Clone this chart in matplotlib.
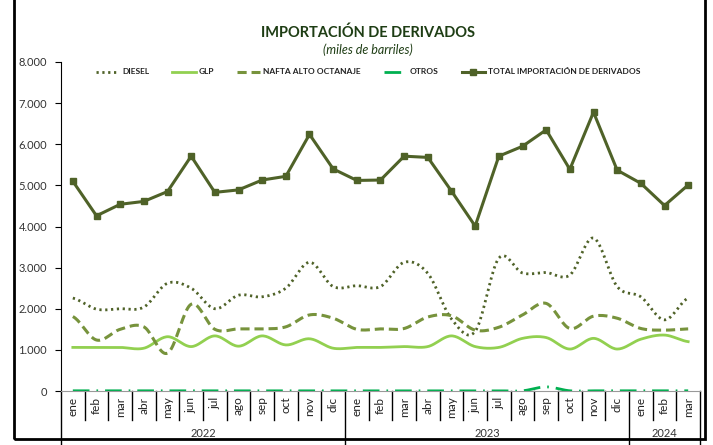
import matplotlib
matplotlib.use("Agg")
import matplotlib.pyplot as plt
import matplotlib.transforms as mtransforms
from matplotlib.lines import Line2D
from matplotlib.patches import Rectangle
from matplotlib.ticker import FuncFormatter
import numpy as np

plt.rcParams['font.family'] = ['Lato', 'DejaVu Sans']

# Datos (miles de barriles)
meses = ['ene', 'feb', 'mar', 'abr', 'may', 'jun', 'jul', 'ago', 'sep', 'oct', 'nov', 'dic',
         'ene', 'feb', 'mar', 'abr', 'may', 'jun', 'jul', 'ago', 'sep', 'oct', 'nov', 'dic',
         'ene', 'feb', 'mar']
anios = ['2022', '2023', '2024']
meses_por_anio = [12, 12, 3]

diesel = [2260, 1990, 2000, 2040, 2620, 2500, 2000, 2330, 2290, 2500, 3130, 2540,
          2560, 2540, 3130, 2860, 1750, 1450, 3230, 2870, 2880, 2820, 3720, 2540,
          2290, 1730, 2260]
glp = [1060, 1060, 1060, 1040, 1320, 1080, 1340, 1090, 1340, 1120, 1270, 1040,
       1060, 1060, 1080, 1080, 1340, 1080, 1060, 1280, 1300, 1020, 1280, 1020,
       1260, 1360, 1200]
nafta = [1810, 1240, 1500, 1560, 920, 2110, 1500, 1510, 1510, 1560, 1850, 1770,
         1500, 1510, 1520, 1800, 1830, 1480, 1550, 1850, 2130, 1520, 1820, 1770,
         1520, 1480, 1510]
otros = [5, 5, 5, 5, 5, 5, 5, 5, 5, 5, 5, 5,
         5, 5, 5, 5, 5, 5, 5, 5, 100, 5, 5, 5,
         5, 5, 5]
total = [5100, 4260, 4540, 4610, 4850, 5710, 4830, 4890, 5130, 5220, 6240, 5400,
         5120, 5130, 5710, 5680, 4860, 4010, 5710, 5950, 6350, 5390, 6780, 5370,
         5050, 4510, 5010]


def suavizar(y, pasos=20):
    # curva suavizada tipo Catmull-Rom (como la linea suavizada de Excel)
    y = np.asarray(y, dtype=float)
    n = len(y)
    p = np.concatenate([[y[0]], y, [y[-1]]])
    xs, ys = [], []
    for i in range(n - 1):
        p0, p1, p2, p3 = p[i], p[i + 1], p[i + 2], p[i + 3]
        t = np.linspace(0, 1, pasos, endpoint=False)
        c1 = p1 + (p2 - p0) / 6
        c2 = p2 - (p3 - p1) / 6
        yy = (1 - t) ** 3 * p1 + 3 * (1 - t) ** 2 * t * c1 + 3 * (1 - t) * t ** 2 * c2 + t ** 3 * p2
        xs.extend(i + t)
        ys.extend(yy)
    xs.append(n - 1)
    ys.append(y[-1])
    return np.array(xs), np.array(ys)


fig = plt.figure(figsize=(7.13, 4.45), dpi=100)
ax = fig.add_axes([61 / 713, 1 - 391 / 445, 639 / 713, 329 / 445])

c_total = '#4F6228'
c_diesel = '#4F6228'
c_nafta = '#77933C'
c_glp = '#92D050'
c_otros = '#00B050'

x = np.arange(len(meses))

xs, ys = suavizar(diesel)
ax.plot(xs, ys, color=c_diesel, lw=2, linestyle=(0, (0.8, 1.3)))
xs, ys = suavizar(glp)
ax.plot(xs, ys, color=c_glp, lw=2)
xs, ys = suavizar(nafta)
ax.plot(xs, ys, color=c_nafta, lw=2.2, linestyle=(0, (3, 1.6)))
xs, ys = suavizar(otros)
ax.plot(xs, ys, color=c_otros, lw=2, linestyle=(0, (6, 2.5, 0.6, 2.5)))
ax.plot(x, total, color=c_total, lw=2.2, marker='s', markersize=4.8)

ax.set_xlim(-0.5, len(meses) - 0.5)
ax.set_ylim(0, 8000)
ax.set_yticks(np.arange(0, 8001, 1000))
ax.yaxis.set_major_formatter(FuncFormatter(lambda v, p: f'{int(v):,}'.replace(',', '.')))
ax.tick_params(axis='y', length=4, color='black', labelsize=8, labelcolor='#333333', pad=6)

ax.set_xticks(x)
ax.set_xticklabels(meses, rotation=90, fontsize=8.5, color='#222222')
ax.tick_params(axis='x', length=0, pad=4)

for s in ['top', 'right']:
    ax.spines[s].set_visible(False)
ax.spines['left'].set_color('black')
ax.spines['bottom'].set_color('#999999')

# separadores de categorias y de anios
trans = mtransforms.blended_transform_factory(ax.transData, ax.transAxes)
limites = np.cumsum([0] + meses_por_anio) - 0.5
for i in range(len(meses) + 1):
    xb = i - 0.5
    largo = -0.165 if xb in limites else -0.088
    ax.add_line(Line2D([xb, xb], [0, largo], transform=trans, color='black', lw=1, clip_on=False))

inicio = 0
for anio, n in zip(anios, meses_por_anio):
    ax.text(inicio + n / 2 - 0.5, -0.13, anio, transform=trans, ha='center', va='center',
            fontsize=8, color='#333333')
    inicio += n

# titulo
fig.text(368 / 713, 1 - 33 / 445, 'IMPORTACIÓN DE DERIVADOS', ha='center', va='center',
         fontsize=10.5, fontweight='bold', color='#1E3D14')
fig.text(368 / 713, 1 - 50 / 445, '(miles de barriles)', ha='center', va='center',
         fontsize=9, style='italic', color='#1E3D14')

# leyenda
handles = [
    Line2D([], [], color=c_diesel, lw=2, linestyle=(0, (0.8, 1.3))),
    Line2D([], [], color=c_glp, lw=2),
    Line2D([], [], color=c_nafta, lw=2.2, linestyle=(0, (3, 1.6))),
    Line2D([], [], color=c_otros, lw=2, linestyle=(0, (6, 2.5, 0.6, 2.5))),
    Line2D([], [], color=c_total, lw=2.2, marker='s', markersize=4.8),
]
etiquetas = ['DIESEL', 'GLP', 'NAFTA ALTO OCTANAJE', 'OTROS', 'TOTAL IMPORTACIÓN DE DERIVADOS']
leg = fig.legend(handles, etiquetas, loc='center', bbox_to_anchor=(368 / 713, 1 - 72 / 445),
                 ncol=5, frameon=False, handlelength=2.8, handletextpad=0.3, columnspacing=2.8,
                 prop={'size': 6, 'weight': 'bold'})
for t in leg.get_texts():
    t.set_color('#222222')

# marco exterior
fig.patches.append(Rectangle((14 / 713, 1 - 439 / 445), 691 / 713, 445 / 445,
                             transform=fig.transFigure, fill=False, edgecolor='black', lw=2))

fig.savefig('out.png', dpi=100)
